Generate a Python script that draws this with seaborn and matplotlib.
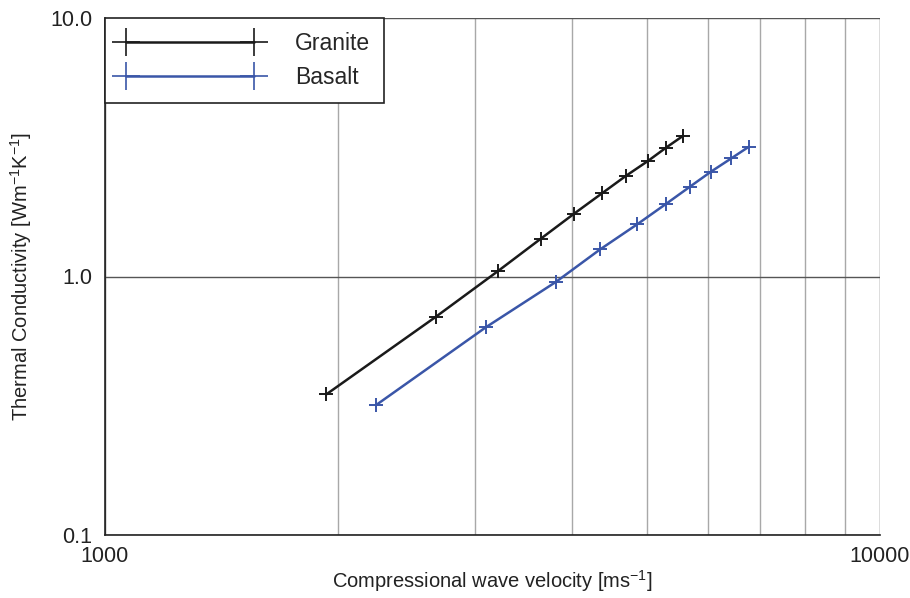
import numpy as np
import pandas as pd
import matplotlib
matplotlib.use("Agg")
import matplotlib.pyplot as plt
from matplotlib.ticker import FixedLocator, FixedFormatter, NullFormatter, LogLocator
import seaborn as sns

# P-wave velocity (m/s) vs thermal conductivity (W/m/K)
granite_velocity = [1930, 2675, 3215, 3650, 4030, 4380, 4700, 5020, 5295, 5570]
granite_conductivity = [0.35, 0.70, 1.05, 1.40, 1.75, 2.10, 2.45, 2.80, 3.15, 3.50]
basalt_velocity = [2237, 3100, 3820, 4352, 4858, 5294, 5686, 6052, 6426, 6776]
basalt_conductivity = [0.318, 0.636, 0.954, 1.272, 1.59, 1.908, 2.226, 2.544, 2.862, 3.18]

x_ticks = [1000, 10000]
x_tick_labels = ["1000", "10000"]
y_ticks = [0.1, 1.0, 10.0]
y_tick_labels = ["0.1", "1.0", "10.0"]

df = pd.concat([
    pd.DataFrame({"velocity": granite_velocity, "conductivity": granite_conductivity, "rock": "Granite"}),
    pd.DataFrame({"velocity": basalt_velocity, "conductivity": basalt_conductivity, "rock": "Basalt"}),
])

sns.set_theme(style="white")
plt.rcParams["font.family"] = ["Liberation Sans", "DejaVu Sans"]
plt.rcParams["mathtext.fontset"] = "custom"
plt.rcParams["mathtext.rm"] = "Liberation Sans"
plt.rcParams["mathtext.it"] = "Liberation Sans"
plt.rcParams["mathtext.default"] = "regular"

fig = plt.figure(figsize=(9.10, 5.98), dpi=100)
ax = fig.add_axes([105 / 910, 63 / 598, 775 / 910, 517 / 598])

colors = {"Granite": "#1a1a1a", "Basalt": "#3a56a8"}
for rock in ["Granite", "Basalt"]:
    sub = df[df["rock"] == rock]
    sns.lineplot(data=sub, x="velocity", y="conductivity", ax=ax, color=colors[rock],
                 marker="+", markersize=10, markeredgewidth=1.4, markeredgecolor=colors[rock],
                 linewidth=1.8, sort=False, label=rock, legend=False, zorder=3)

ax.set_xscale("log")
ax.set_yscale("log")
ax.set_xlim(1000, 10000)
ax.set_ylim(0.1, 10)

ax.xaxis.set_major_locator(FixedLocator(x_ticks))
ax.xaxis.set_major_formatter(FixedFormatter(x_tick_labels))
ax.xaxis.set_minor_locator(LogLocator(base=10, subs=np.arange(2, 10)))
ax.xaxis.set_minor_formatter(NullFormatter())
ax.yaxis.set_major_locator(FixedLocator(y_ticks))
ax.yaxis.set_major_formatter(FixedFormatter(y_tick_labels))
ax.yaxis.set_minor_locator(FixedLocator([]))

ax.grid(True, which="major", axis="both", color="#555555", linewidth=1.0, zorder=0)
ax.grid(True, which="minor", axis="x", color="#a8a8a8", linewidth=1.0, zorder=0)

for side in ["top", "right"]:
    ax.spines[side].set_visible(False)
for side in ["left", "bottom"]:
    ax.spines[side].set_color("#222222")
    ax.spines[side].set_linewidth(1.2)

ax.tick_params(axis="x", which="both", length=0, pad=8, labelsize=15.5, colors="#222222")
ax.tick_params(axis="y", which="both", length=0, pad=9, labelsize=15.5, colors="#222222")

ax.set_xlabel("Compressional wave velocity [ms$^{-1}$]", fontsize=14.5, color="#222222", labelpad=1)
ax.set_ylabel("Thermal Conductivity [Wm$^{-1}$K$^{-1}$]", fontsize=14.5, color="#222222", labelpad=12)

handles, labels = ax.get_legend_handles_labels()
leg = ax.legend(handles, labels, loc="upper left", bbox_to_anchor=(0, 1), numpoints=2,
                handlelength=6.2, fontsize=16.5, frameon=True, fancybox=False,
                borderpad=0.6, labelspacing=0.5, handletextpad=1.5, borderaxespad=0)
leg.get_frame().set_edgecolor("#222222")
leg.get_frame().set_linewidth(1.2)
leg.get_frame().set_alpha(1)
for lh in leg.get_lines():
    lh.set_markersize(20)
    lh.set_markeredgewidth(1.2)

fig.savefig("out.png", dpi=100, facecolor="white")
